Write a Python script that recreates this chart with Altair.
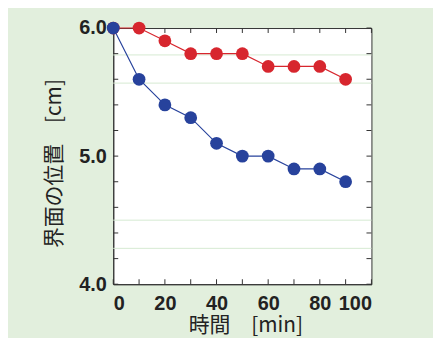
import altair as alt
import pandas as pd

time_min = [0, 10, 20, 30, 40, 50, 60, 70, 80, 90]
red_pos = [6.0, 6.0, 5.9, 5.8, 5.8, 5.8, 5.7, 5.7, 5.7, 5.6]
blue_pos = [6.0, 5.6, 5.4, 5.3, 5.1, 5.0, 5.0, 4.9, 4.9, 4.8]
x_tick_labels = [0, 20, 40, 60, 80, 100]
y_tick_labels = [4.0, 5.0, 6.0]
x_minor = [0, 10, 20, 30, 40, 50, 60, 70, 80, 90, 100]
y_minor = [4.0, 4.2, 4.4, 4.6, 4.8, 5.0, 5.2, 5.4, 5.6, 5.8, 6.0]
faint_lines = [5.79, 5.57, 4.5, 4.28]

W, H = 260, 258
RED = "#d7262e"
BLUE = "#27429c"
AX = "#333333"

df = pd.DataFrame({
    "t": time_min * 2,
    "pos": red_pos + blue_pos,
    "s": ["red"] * len(time_min) + ["blue"] * len(time_min),
})

xs = alt.Scale(domain=[0, 100], nice=False, zero=False)
ys = alt.Scale(domain=[4.0, 6.0], nice=False, zero=False)
cs = alt.Scale(domain=["red", "blue"], range=[RED, BLUE])

lab = dict(labelFont="Liberation Sans", labelFontWeight="bold", labelFontSize=20,
           labelColor="#222222", titleFont="Noto Sans CJK JP", titleFontWeight="normal",
           titleFontSize=21, titleColor="#222222", tickSize=0, grid=False,
           domainColor=AX, domainWidth=1)

x_axis = alt.Axis(values=x_tick_labels, format="d", title="時間\u3000[min]",
                  labelPadding=9, titlePadding=2, titleX=133, **lab)
y_axis = alt.Axis(values=y_tick_labels, format=".1f", title="界面の位置\u3000[cm]",
                  labelPadding=7, titlePadding=14, titleY=136, **lab)

faint = alt.Chart(pd.DataFrame({"y": faint_lines})).mark_rule(
    color="#d6ead2", strokeWidth=1).encode(
    y=alt.Y("y:Q", scale=ys, axis=y_axis), x=alt.value(0), x2=alt.value(W))

xt = pd.DataFrame({"x": x_minor})
yt = pd.DataFrame({"y": y_minor})
xb = alt.Chart(xt).mark_rule(color=AX).encode(
    x=alt.X("x:Q", scale=xs, axis=x_axis), y=alt.value(H), y2=alt.value(H - 5))
xtop = alt.Chart(xt).mark_rule(color=AX).encode(
    x=alt.X("x:Q", scale=xs, axis=x_axis), y=alt.value(0), y2=alt.value(5))
yl = alt.Chart(yt).mark_rule(color=AX).encode(
    y=alt.Y("y:Q", scale=ys, axis=y_axis), x=alt.value(0), x2=alt.value(5))
yr = alt.Chart(yt).mark_rule(color=AX).encode(
    y=alt.Y("y:Q", scale=ys, axis=y_axis), x=alt.value(W - 5), x2=alt.value(W))

base = alt.Chart(df).encode(
    x=alt.X("t:Q", scale=xs, axis=x_axis),
    y=alt.Y("pos:Q", scale=ys, axis=y_axis),
    color=alt.Color("s:N", scale=cs, legend=None),
)
lines = base.mark_line(strokeWidth=1.2)
pts = base.mark_circle(size=165, opacity=1)

chart = alt.layer(faint, xb, xtop, yl, yr, lines, pts).properties(
    width=W, height=H,
    background="#e2efdd",
    autosize=alt.AutoSizeParams(type="none"),
    padding={"left": 106, "top": 19, "right": 62, "bottom": 53},
).configure_view(stroke=AX, strokeWidth=1, fill="white")

chart.save("out.html", embed_options={"renderer": "svg", "actions": False})
